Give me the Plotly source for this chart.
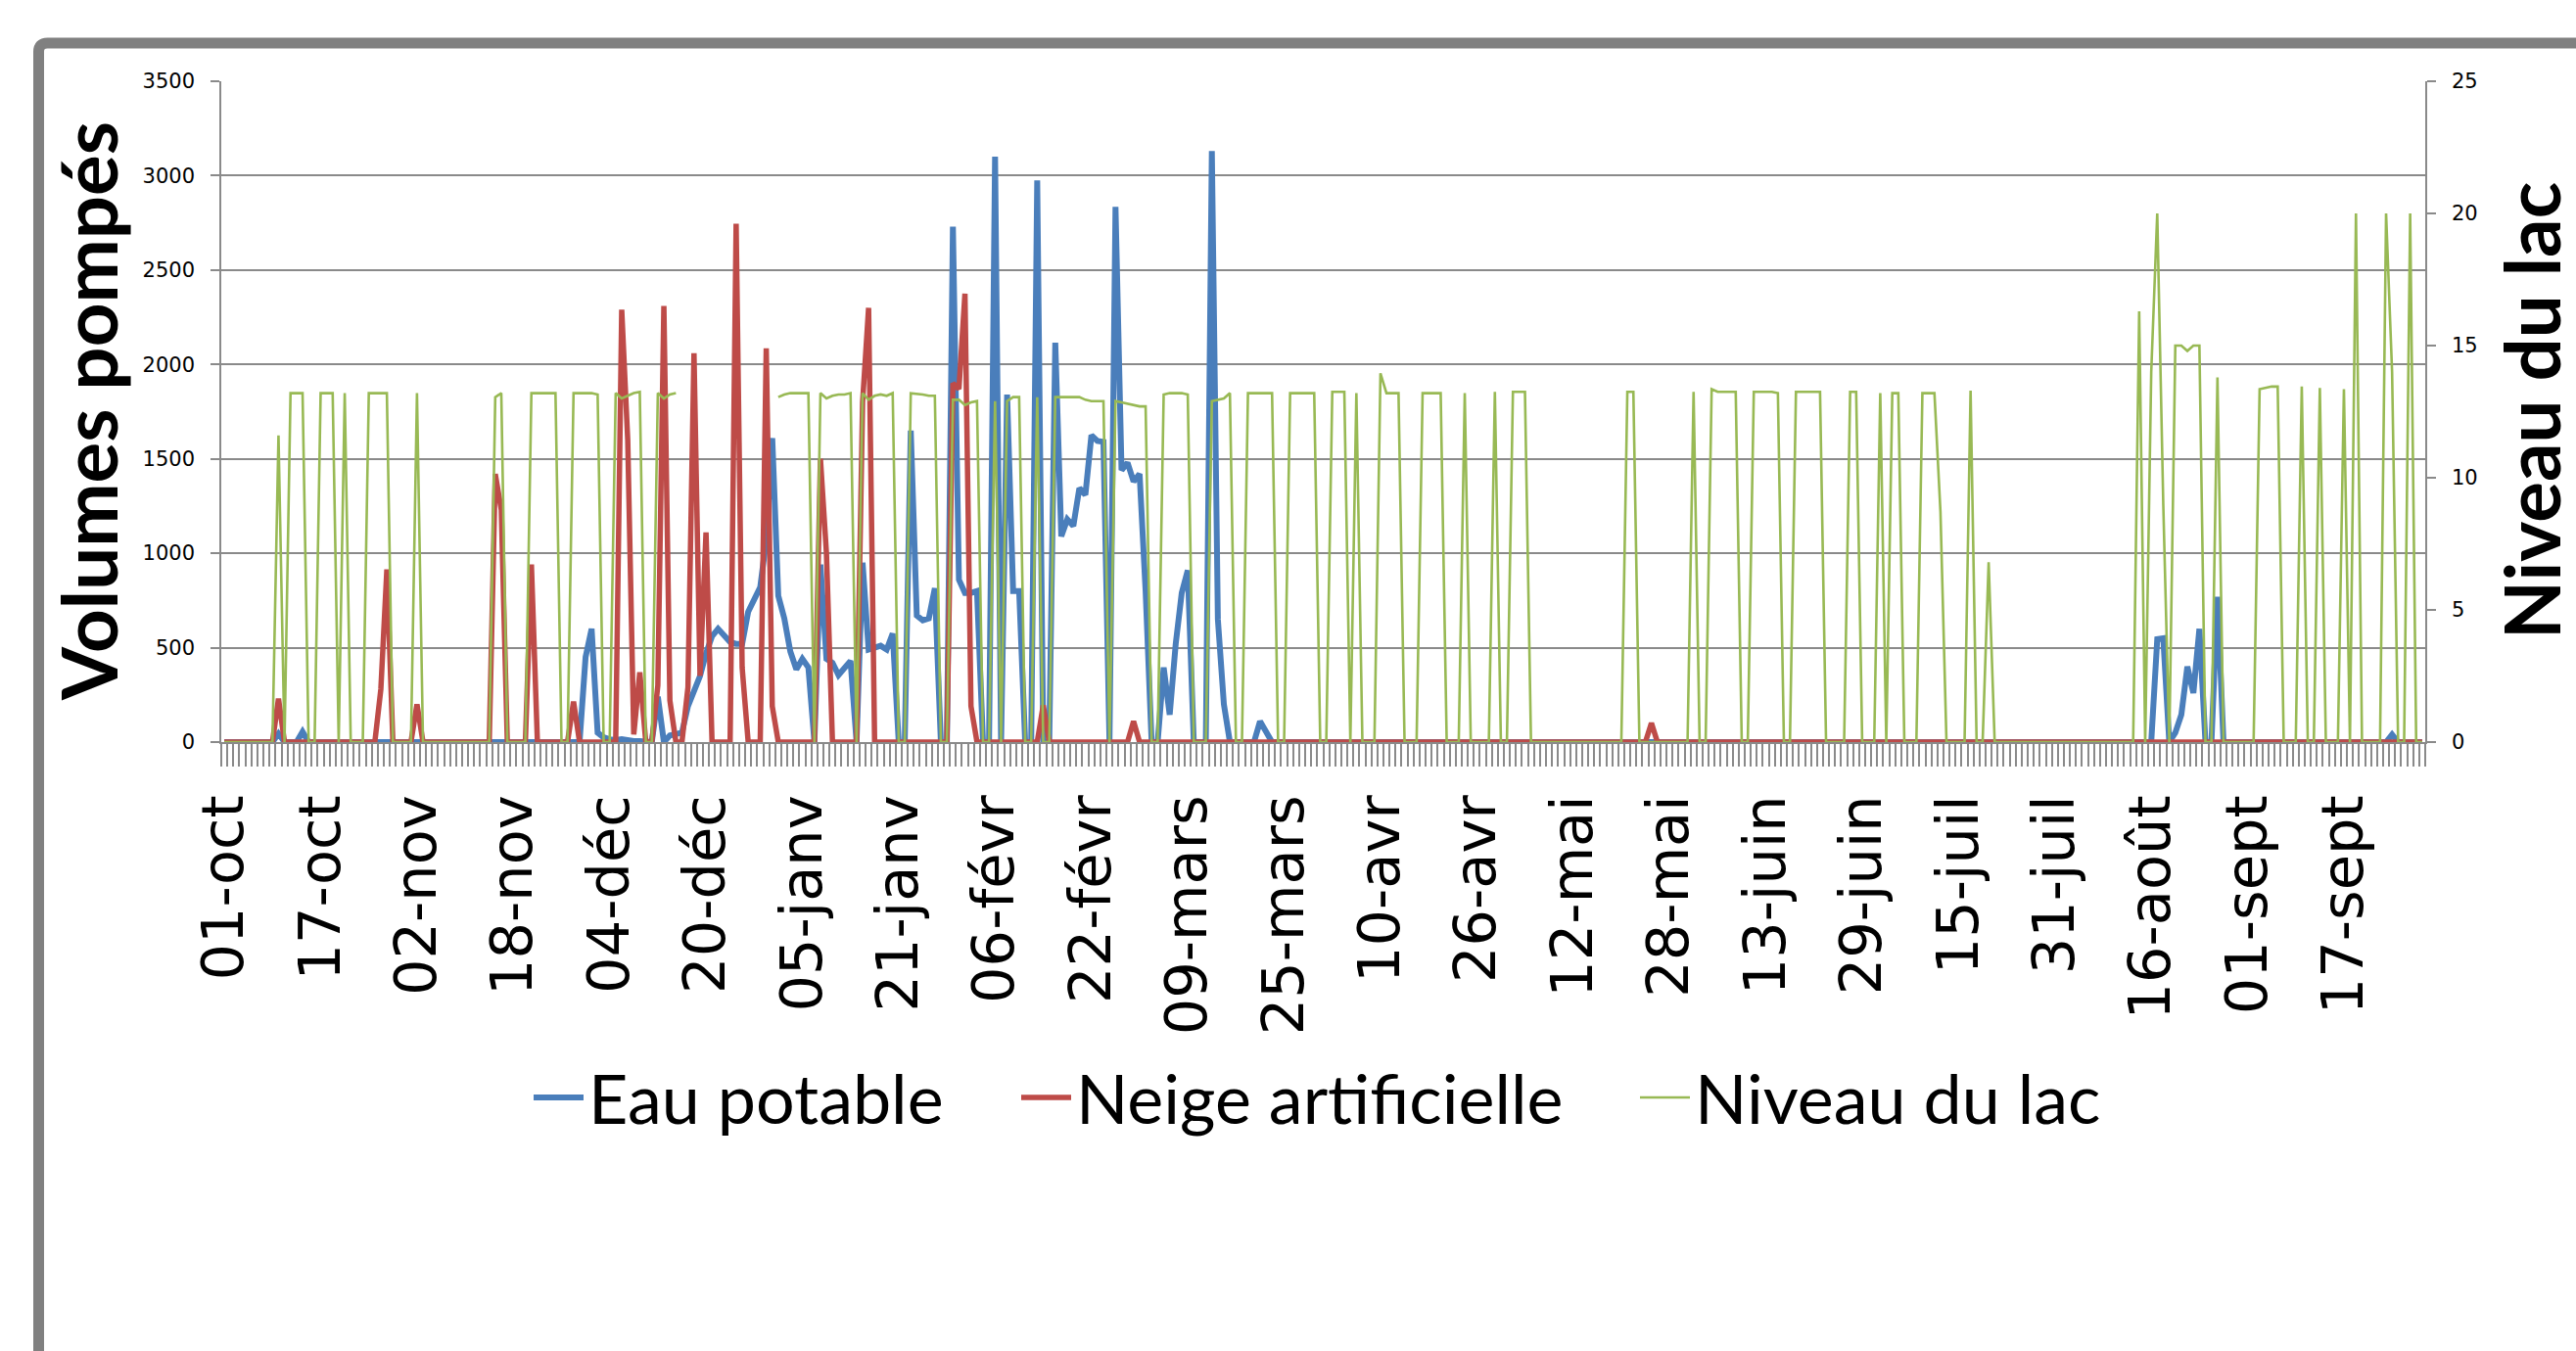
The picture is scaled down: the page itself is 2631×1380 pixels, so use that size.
import pandas as pd
import plotly.graph_objects as go

# ---------------- data ----------------
dates = pd.date_range("2011-10-01", "2012-09-30", freq="D")  # 366 daily categories

tick_labels = ["01-oct", "17-oct", "02-nov", "18-nov", "04-déc", "20-déc", "05-janv",
               "21-janv", "06-févr", "22-févr", "09-mars", "25-mars", "10-avr", "26-avr",
               "12-mai", "28-mai", "13-juin", "29-juin", "15-juil", "31-juil", "16-août",
               "01-sept", "17-sept"]

eau_potable = [
    0, 0, 0, 0, 0, 0, 0, 0, 0, 45, 0, 0, 0, 55, 0, 0,                      # 0-15
    0, 0, 0, 0, 0, 0, 0, 0, 0, 0, 0, 0, 0, 0, 0, 0,                        # 16-31
    0, 0, 0, 0, 0, 0, 0, 0, 0, 0, 0, 0, 0, 0, 0, 0,                        # 32-47
    0, 0, 0, 0, 0, 0, 0, 0, 0, 0, 0, 0, 450, 600, 50, 25,                  # 48-63
    15, 10, 15, 8, 5, 5, 0, 0, 240, 0, 35, 45, 50, 190, 270, 350,          # 64-79
    470, 560, 600, 570, 530, 520, 520, 690, 760, 820, 1070, 1610, 775, 655, 480, 385,  # 80-95
    440, 395, 0, 940, 440, 420, 355, 395, 430, 0, 950, 490, 500, 510, 490, 575,        # 96-111
    0, 0, 1650, 670, 645, 655, 815, 0, 0, 2730, 860, 790, 790, 800, 0, 0,              # 112-127
    3100, 0, 1840, 800, 800, 0, 0, 2975, 0, 0, 2115, 1090, 1180, 1145, 1345, 1310,     # 128-143
    1625, 1595, 1590, 0, 2835, 1440, 1480, 1380, 1420, 800, 0, 0, 395, 145, 520, 790,  # 144-159
    910, 0, 0, 0, 3130, 650, 200, 0, 0, 0, 0, 0, 110, 50, 0, 0,            # 160-175
    0, 0, 0, 0, 0, 0, 0, 0, 0, 0, 0, 0, 0, 0, 0, 0,                        # 176-191
    0, 0, 0, 0, 0, 0, 0, 0, 0, 0, 0, 0, 0, 0, 0, 0,                        # 192-207
    0, 0, 0, 0, 0, 0, 0, 0, 0, 0, 0, 0, 0, 0, 0, 0,                        # 208-223
    0, 0, 0, 0, 0, 0, 0, 0, 0, 0, 0, 0, 0, 0, 0, 0,                        # 224-239
    0, 0, 0, 0, 0, 0, 0, 0, 0, 0, 0, 0, 0, 0, 0, 0,                        # 240-255
    0, 0, 0, 0, 0, 0, 0, 0, 0, 0, 0, 0, 0, 0, 0, 0,                        # 256-271
    0, 0, 0, 0, 0, 0, 0, 0, 0, 0, 0, 0, 0, 0, 0, 0,                        # 272-287
    0, 0, 0, 0, 0, 0, 0, 0, 0, 0, 0, 0, 0, 0, 0, 0,                        # 288-303
    0, 0, 0, 0, 0, 0, 0, 0, 0, 0, 0, 0, 0, 0, 0, 0,                        # 304-319
    0, 545, 550, 0, 50, 145, 400, 260, 600, 0, 0, 770, 0, 0, 0, 0,         # 320-335
    0, 0, 0, 0, 0, 0, 0, 0, 0, 0, 0, 0, 0, 0, 0, 0,                        # 336-351
    0, 0, 0, 0, 0, 0, 0, 0, 40, 0, 0, 0, 0, 0,                            # 352-365
]

neige_artificielle = [
    0, 0, 0, 0, 0, 0, 0, 0, 0, 230, 0, 0, 0, 0, 0, 0,                      # 0-15
    0, 0, 0, 0, 0, 0, 0, 0, 0, 0, 280, 915, 0, 0, 0, 0,                    # 16-31
    200, 0, 0, 0, 0, 0, 0, 0, 0, 0, 0, 0, 0, 1420, 1230, 0,                # 32-47
    0, 0, 0, 940, 0, 0, 0, 0, 0, 0, 215, 0, 0, 0, 0, 0,                    # 48-63
    0, 0, 2290, 1600, 40, 370, 0, 0, 300, 2310, 220, 0, 0, 290, 2060, 350, # 64-79
    1110, 0, 0, 0, 0, 2745, 395, 0, 0, 0, 2085, 190, 0, 0, 0, 0,           # 80-95
    0, 0, 0, 1500, 1000, 0, 0, 0, 0, 0, 1800, 2300, 0, 0, 0, 0,            # 96-111
    0, 0, 0, 0, 0, 0, 0, 0, 0, 1900, 1870, 2375, 190, 0, 0, 0,             # 112-127
    0, 0, 0, 0, 0, 0, 0, 0, 195, 0, 0, 0, 0, 0, 0, 0,                      # 128-143
    0, 0, 0, 0, 0, 0, 0, 110, 0, 0, 0, 0, 0, 0, 0, 0,                      # 144-159
    0, 0, 0, 0, 0, 0, 0, 0, 0, 0, 0, 0, 0, 0, 0, 0,                        # 160-175
    0, 0, 0, 0, 0, 0, 0, 0, 0, 0, 0, 0, 0, 0, 0, 0,                        # 176-191
    0, 0, 0, 0, 0, 0, 0, 0, 0, 0, 0, 0, 0, 0, 0, 0,                        # 192-207
    0, 0, 0, 0, 0, 0, 0, 0, 0, 0, 0, 0, 0, 0, 0, 0,                        # 208-223
    0, 0, 0, 0, 0, 0, 0, 0, 0, 0, 0, 0, 0, 100, 0, 0,                      # 224-239
    0, 0, 0, 0, 0, 0, 0, 0, 0, 0, 0, 0, 0, 0, 0, 0,                        # 240-255
    0, 0, 0, 0, 0, 0, 0, 0, 0, 0, 0, 0, 0, 0, 0, 0,                        # 256-271
    0, 0, 0, 0, 0, 0, 0, 0, 0, 0, 0, 0, 0, 0, 0, 0,                        # 272-287
    0, 0, 0, 0, 0, 0, 0, 0, 0, 0, 0, 0, 0, 0, 0, 0,                        # 288-303
    0, 0, 0, 0, 0, 0, 0, 0, 0, 0, 0, 0, 0, 0, 0, 0,                        # 304-319
    0, 0, 0, 0, 0, 0, 0, 0, 0, 0, 0, 0, 0, 0, 0, 0,                        # 320-335
    0, 0, 0, 0, 0, 0, 0, 0, 0, 0, 0, 0, 0, 0, 0, 0,                        # 336-351
    0, 0, 0, 0, 0, 0, 0, 0, 0, 0, 0, 0, 0, 0,                              # 352-365
]

niveau_du_lac = [
    0, 0, 0, 0, 0, 0, 0, 0, 0, 11.6, 0, 13.2, 13.2, 13.2, 0, 0,                          # 0-15
    13.2, 13.2, 13.2, 0, 13.2, 0, 0, 0, 13.2, 13.2, 13.2, 13.2, 0, 0, 0, 0,              # 16-31
    13.2, 0, 0, 0, 0, 0, 0, 0, 0, 0, 0, 0, 0, 13.05, 13.2, 0,                            # 32-47
    0, 0, 0, 13.2, 13.2, 13.2, 13.2, 13.2, 0, 0, 13.2, 13.2, 13.2, 13.2, 13.15, 0,       # 48-63
    0, 13.2, 13.0, 13.1, 13.2, 13.25, 0, 0, 13.2, 13.0, 13.15, 13.2, None, None, None, None,  # 64-79
    None, None, None, None, None, None, None, None, None, None, None, None, 13.05, 13.15, 13.2, 13.2,  # 80-95
    13.2, 13.2, 0, 13.2, 13.0, 13.1, 13.15, 13.15, 13.2, 0, 13.2, 12.95, 13.1, 13.15, 13.1, 13.2,  # 96-111
    0, 0, 13.2, 13.18, 13.15, 13.1, 13.1, 0, 0, 12.95, 12.95, 12.75, 12.85, 12.9, 0, 0,  # 112-127
    12.9, 0, 12.9, 13.05, 13.05, 0, 0, 13.05, 0, 0, 13.05, 13.05, 13.05, 13.05, 13.05, 12.95,  # 128-143
    12.9, 12.9, 12.9, 0, 12.9, 12.85, 12.8, 12.75, 12.7, 12.7, 0, 0, 13.15, 13.2, 13.2, 13.2,  # 144-159
    13.15, 0, 0, 0, 12.9, 12.95, 13.0, 13.2, 0, 0, 13.2, 13.2, 13.2, 13.2, 13.2, 0,      # 160-175
    0, 13.2, 13.2, 13.2, 13.2, 13.2, 0, 0, 13.25, 13.25, 13.25, 0, 13.2, 0, 0, 0,        # 176-191
    13.95, 13.2, 13.2, 13.2, 0, 0, 0, 13.2, 13.2, 13.2, 13.2, 0, 0, 0, 13.2, 0,          # 192-207
    0, 0, 0, 13.25, 0, 0, 13.25, 13.25, 13.25, 0, 0, 0, 0, 0, 0, 0,                      # 208-223
    0, 0, 0, 0, 0, 0, 0, 0, 0, 13.25, 13.25, 0, 0, 0, 0, 0,                              # 224-239
    0, 0, 0, 0, 13.25, 0, 0, 13.35, 13.25, 13.25, 13.25, 13.25, 0, 0, 13.25, 13.25,      # 240-255
    13.25, 13.25, 13.2, 0, 0, 13.25, 13.25, 13.25, 13.25, 13.25, 0, 0, 0, 0, 13.25, 13.25,  # 256-271
    0, 0, 0, 13.2, 0, 13.2, 13.2, 0, 0, 0, 13.2, 13.2, 13.2, 8.7, 0, 0,                  # 272-287
    0, 0, 13.3, 0, 0, 6.8, 0, 0, 0, 0, 0, 0, 0, 0, 0, 0,                                 # 288-303
    0, 0, 0, 0, 0, 0, 0, 0, 0, 0, 0, 0, 0, 0, 16.3, 0,                                   # 304-319
    14.0, 20.0, 9.0, 0, 15.0, 15.0, 14.8, 15.0, 15.0, 0, 0, 13.8, 0, 0, 0, 0,            # 320-335
    0, 0, 13.35, 13.4, 13.45, 13.45, 0, 0, 0, 13.45, 0, 0, 13.4, 0, 0, 0,                # 336-351
    13.35, 0, 20.0, 0, 0, 0, 0, 20.0, 14.0, 0, 0, 20.0, 0, 0,                            # 352-365
]

# ---------------- geometry (pixels) ----------------
W, H = 2631, 1380
ML, MR, MT, MB = 226, 154, 83, 622
PW = W - ML - MR
PH = H - MT - MB


def px_x(p):
    return (p - ML) / PW


def px_y(p):
    return 1 - (p - MT) / PH


GRID = "#8a8a8a"
BLUE = "#4A7EBB"
RED = "#BE4B48"
GREEN = "#98B954"

fig = go.Figure()
fig.add_trace(go.Scatter(x=dates, y=eau_potable, name="Eau potable", mode="lines",
                         legend="legend",
                         line=dict(color=BLUE, width=6)))
fig.add_trace(go.Scatter(x=dates, y=neige_artificielle, name="Neige artificielle", mode="lines",
                         legend="legend2",
                         line=dict(color=RED, width=5.5)))
fig.add_trace(go.Scatter(x=dates, y=niveau_du_lac, name="Niveau du lac", mode="lines",
                         yaxis="y2", connectgaps=False, legend="legend3",
                         line=dict(color=GREEN, width=2.6)))

x_start = dates[0] - pd.Timedelta(hours=12)
x_end = dates[-1] + pd.Timedelta(hours=12)


def leg(px_left):
    return dict(orientation="h", x=px_x(px_left), xanchor="left", y=px_y(1121), yanchor="middle",
                font=dict(family="Lato", size=70, color="black"),
                bgcolor="rgba(0,0,0,0)", itemwidth=51, tracegroupgap=0)


fig.update_layout(
    width=W, height=H, autosize=False,
    margin=dict(l=ML, r=MR, t=MT, b=MB, pad=0),
    paper_bgcolor="white", plot_bgcolor="white",
    showlegend=True,
    legend=leg(540), legend2=leg(1038), legend3=leg(1670),
    xaxis=dict(
        type="date", range=[x_start, x_end],
        tickmode="array", tickvals=list(dates[::16]), ticktext=tick_labels,
        tickangle=-90, tickfont=dict(family="DejaVu Sans", size=59, color="black"),
        ticks="", ticklabelstandoff=29,
        showline=True, linecolor=GRID, linewidth=1.5,
        showgrid=False, zeroline=False,
        minor=dict(ticks="outside", ticklen=23, tickwidth=1.6, tickcolor=GRID,
                   tick0=x_start, dtick=86400000, showgrid=False),
    ),
    yaxis=dict(
        range=[0, 3500], tick0=0, dtick=500,
        showgrid=True, gridcolor=GRID, gridwidth=1.5,
        showline=True, linecolor=GRID, linewidth=1.5,
        ticks="outside", ticklen=9, tickwidth=1.5, tickcolor=GRID,
        tickfont=dict(family="DejaVu Sans", size=21, color="black"),
        ticklabelstandoff=12, zeroline=False,
    ),
    yaxis2=dict(
        overlaying="y", side="right",
        range=[0, 25], tick0=0, dtick=5,
        showgrid=False, showline=True, linecolor=GRID, linewidth=1.5,
        ticks="outside", ticklen=9, tickwidth=1.5, tickcolor=GRID,
        tickfont=dict(family="DejaVu Sans", size=21, color="black"),
        ticklabelstandoff=12, zeroline=False,
    ),
    annotations=[
        dict(text="Volumes pompés", xref="paper", yref="paper",
             x=px_x(90), y=px_y(420), xanchor="center", yanchor="middle",
             textangle=-90, showarrow=False,
             font=dict(family="Lato", size=78, color="black", weight="bold")),
        dict(text="Niveau du lac", xref="paper", yref="paper",
             x=px_x(2585), y=px_y(420), xanchor="center", yanchor="middle",
             textangle=-90, showarrow=False,
             font=dict(family="Lato", size=78, color="black", weight="bold")),
    ],
)

# outer chart frame (cropped Excel chart border with rounded corner)
fx, fy, rr = 39.5, 44, 9
frame_path = (f"M {px_x(fx)},{px_y(1500)} L {px_x(fx)},{px_y(fy + rr)} "
              f"Q {px_x(fx)},{px_y(fy)} {px_x(fx + rr)},{px_y(fy)} L {px_x(2800)},{px_y(fy)}")
fig.add_shape(type="path", path=frame_path, xref="paper", yref="paper",
              line=dict(color="#808080", width=11), layer="above")

fig.write_html("out.html", config={"displayModeBar": False},
               post_script="document.body.style.margin='0';document.body.style.overflow='hidden';")
